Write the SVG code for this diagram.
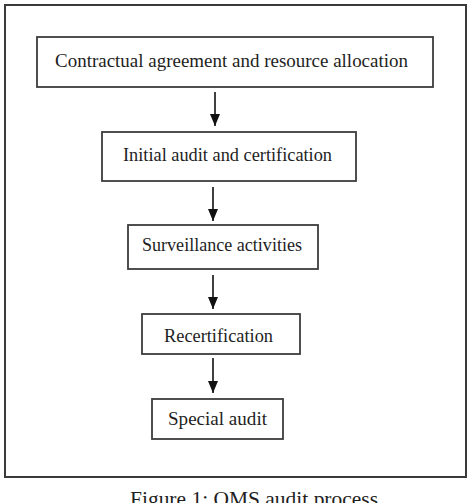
<svg xmlns="http://www.w3.org/2000/svg" width="474" height="503" viewBox="0 0 474 503">
<defs>
<style>
.frame{fill:none;stroke:#3a3a3a;stroke-width:2}
.box{fill:#fff;stroke:#3c3c3c;stroke-width:1.8}
.lbl{font-family:"Liberation Serif","Times New Roman",serif;font-size:18px;fill:#1e1e1e}
.cap{font-family:"Liberation Serif","Times New Roman",serif;font-size:21px;fill:#1e1e1e}
.conn{stroke:#111;stroke-width:1.6;fill:none;marker-end:url(#ah)}
</style>
<marker id="ah" viewBox="0 0 12 10" refX="12" refY="5" markerWidth="12" markerHeight="10" markerUnits="userSpaceOnUse" orient="auto">
<path d="M0,0 L12,5 L0,10 Z" fill="#111"/>
</marker>
</defs>
<rect width="474" height="503" fill="#fff"/>
<rect class="frame" x="5" y="5" width="461" height="472"/>
<g id="n1"><rect class="box" x="37" y="37" width="396" height="50"/><text class="lbl" x="55" y="67" textLength="353" lengthAdjust="spacingAndGlyphs">Contractual agreement and resource allocation</text></g>
<g id="n2"><rect class="box" x="102" y="132" width="254" height="49"/><text class="lbl" x="123" y="161" textLength="209" lengthAdjust="spacingAndGlyphs">Initial audit and certification</text></g>
<g id="n3"><rect class="box" x="128" y="225" width="190" height="44"/><text class="lbl" x="142" y="251" textLength="160" lengthAdjust="spacingAndGlyphs">Surveillance activities</text></g>
<g id="n4"><rect class="box" x="142" y="314" width="158" height="40"/><text class="lbl" x="164" y="342" textLength="109" lengthAdjust="spacingAndGlyphs">Recertification</text></g>
<g id="n5"><rect class="box" x="152" y="399" width="131" height="40"/><text class="lbl" x="168" y="425" textLength="99" lengthAdjust="spacingAndGlyphs">Special audit</text></g>
<g id="connectors">
<line class="conn" x1="215" y1="92" x2="215" y2="126"/>
<line class="conn" x1="213" y1="187" x2="213" y2="221"/>
<line class="conn" x1="213" y1="275" x2="213" y2="309"/>
<line class="conn" x1="213" y1="358" x2="213" y2="393"/>
</g>
<text class="cap" x="130" y="506" textLength="248" lengthAdjust="spacingAndGlyphs">Figure 1: QMS audit process</text>
</svg>
